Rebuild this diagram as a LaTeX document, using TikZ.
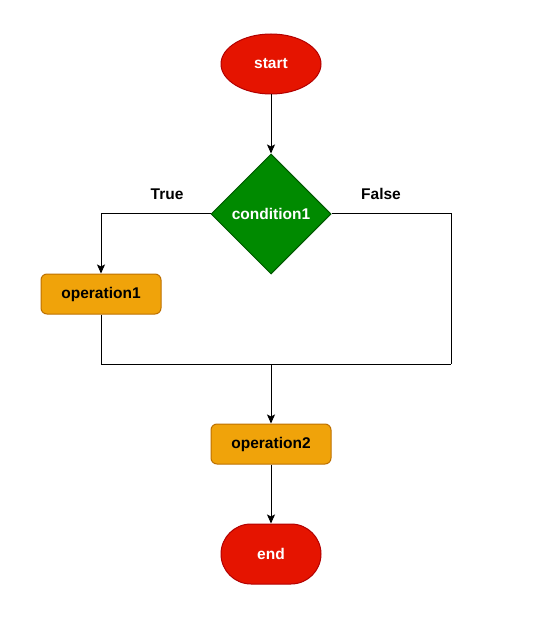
\documentclass[tikz,border=0pt]{standalone}
\usepackage{fontspec}
\setmainfont{Liberation Sans}
\usepackage{tikz}
\usetikzlibrary{shapes,arrows,arrows.meta,positioning,calc}
\usepackage{xcolor}
\definecolor{termfill}{HTML}{E51400}
\definecolor{termline}{HTML}{B20000}
\definecolor{condfill}{HTML}{008A00}
\definecolor{condline}{HTML}{005700}
\definecolor{opfill}{HTML}{F0A30A}
\definecolor{opline}{HTML}{BD7000}

\begin{document}
\begin{tikzpicture}[x=1pt, y=-1pt, >={Stealth[length=9pt,width=8pt,inset=2pt]}, line width=1pt,
    every node/.style={font=\fontsize{15.5}{18}\selectfont\bfseries},
    startnode/.style={draw=termline, fill=termfill, text=white, ellipse, minimum width=100pt, minimum height=60pt, inner sep=0pt},
    endnode/.style={draw=termline, fill=termfill, text=white, rectangle, rounded corners=30pt, minimum width=100pt, minimum height=60pt, inner sep=0pt},
    condnode/.style={draw=condline, fill=condfill, text=white, diamond, minimum size=120pt, inner sep=0pt},
    opnode/.style={draw=opline, fill=opfill, text=black, rectangle, rounded corners=6pt, minimum width=120pt, minimum height=40pt, inner sep=0pt}]
    \useasboundingbox (0,0) rectangle (549,617);
    % Level 0
    \node[startnode] (start) at (271,64) {start};
    \node[condnode] (cond) at (271,214) {condition1};
    \draw[->] (start) -- (cond);

    % Level 1
    \node (true) at (167,194) {True};
    \node (false) at (381,194) {False};
    \node[opnode] (op1) at (101,294) {operation1};
    \draw[->] (cond.west) -| (op1.north);

    % Level 2 - merge
    \coordinate (merge) at (271,364);
    \coordinate (corner) at (451,364);
    \draw (cond.east) -| (corner);
    \draw (op1.south) |- (corner);

    % Level 3
    \node[opnode] (op2) at (271,444) {operation2};
    \node[endnode] (end) at (271,554) {end};
    \draw[->] (merge) -- (op2.north);
    \draw[->] (op2) -- (end);
\end{tikzpicture}
\end{document}
